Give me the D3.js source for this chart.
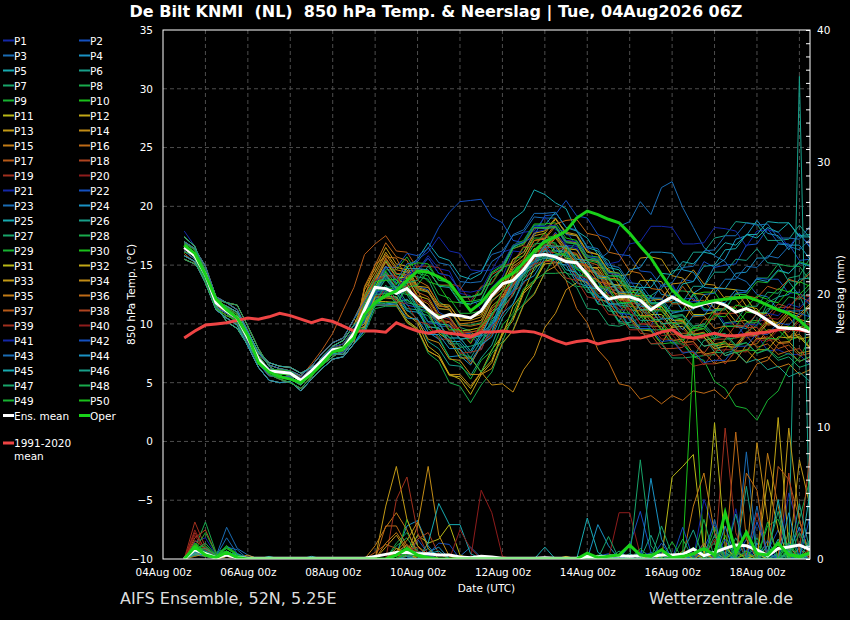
<!DOCTYPE html>
<html>
<head>
<meta charset="utf-8">
<script src="https://cdn.jsdelivr.net/npm/d3@7"></script>
<style>
  body { margin: 0; background: #000; }
  text { font-family: "DejaVu Sans", sans-serif; fill: #fff; }
</style>
</head>
<body>
<svg id="chart" width="850" height="620"></svg>
<script>
// ---- data ------------------------------------------------------------
// hours after 04Aug 00z, 6-hourly from 04Aug 12z
var firstHour = 12, stepHours = 6;

var xTickHours = [0, 48, 96, 144, 192, 240, 288, 336];
var xTickLabels = ["04Aug 00z", "06Aug 00z", "08Aug 00z", "10Aug 00z", "12Aug 00z", "14Aug 00z", "16Aug 00z", "18Aug 00z"];
var tempTicks = [-10, -5, 0, 5, 10, 15, 20, 25, 30, 35];
var rainTicks = [0, 10, 20, 30, 40];

var memberColors = ["#1428a8","#1450c0","#1a6cb4","#1a92c4","#18aab0","#18a08a","#18a46a","#18aa4c","#18b232","#1ac21a",
                    "#b8b816","#c2a816","#c29a16","#c28c16","#c27c16","#be6a16","#b65a18","#b04420","#a0301e","#8e1c1c"];

// 850 hPa temperature (°C) per member, P1..P50
var memberTemp = [
 [17.9,16.6,14.2,11.6,10.2,9.6,8.2,6.9,5.9,5.6,5.3,4.8,5.9,7.2,8.1,8.6,9.9, 11.5,13.9,14.0,13.1,14.3,14.6,15.8,14.7,14.5,12.6,12.4,11.2,13.1,14.0,16.2,16.1,17.8,18.0,18.4,16.7,16.6,14.6,14.3,12.6,13.0,13.8,12.3,12.2,12.0,13.4,11.8,11.9,11.8,11.4,10.0,10.1,8.8,9.1,7.7,7.8,7.4,7.4,6.5],
 [16.2,15.5,13.8,11.4,10.9,10.2,8.4,6.6,5.6,5.5,5.5,4.9,5.7,6.6,7.4,7.6,8.8, 10.5,11.7,13.1,11.8,13.2,13.2,12.9,11.0,10.5,9.1,9.2,7.8,9.9,11.4,13.8,14.2,16.2,16.5,17.8,16.6,16.4,14.4,13.6,11.6,11.3,9.7,9.8,9.8,11.7,12.2,13.8,13.6,15.3,14.8,15.0,15.1,16.7,16.8,18.1,16.9,16.8,15.4,15.5],
 [17.0,16.4,14.9,12.3,11.8,11.2,9.4,7.5,6.5,6.2,6.0,5.6,6.4,7.5,8.4,8.8,10.4, 12.3,13.7,14.9,13.5,14.5,14.6,15.6,14.3,14.1,12.9,14.2,14.5,15.9,16.2,17.5,17.8,19.1,19.0,19.0,17.6,17.5,15.7,15.4,16.1,18.3,18.7,20.4,19.3,21.6,22.1,19.9,18.2,16.5,15.8,15.3,14.0,13.6,12.5,12.3,11.2,11.1,11.1,11.3],
 [15.8,15.3,13.5,11.2,10.5,9.9,8.1,6.3,5.2,5.0,5.1,4.3,5.3,6.2,7.0,7.2,8.3, 9.5,11.9,11.7,11.8,12.1,11.3,9.3,8.7,7.2,7.3,6.5,8.2,9.3,12.1,13.2,15.2,15.9,17.3,16.2,16.1,14.3,13.7,11.7,11.5,10.2,12.1,12.6,13.9,12.5,12.4,11.1,12.6,13.2,14.9,15.5,17.2,17.5,18.8,17.7,17.5,16.3,17.7,16.5],
 [16.5,15.7,14.0,11.9,11.5,11.0,9.3,7.6,6.7,6.4,6.3,5.8,6.3,6.8,7.5,7.4,8.6, 11.3,12.7,14.2,12.9,14.8,15.5,16.9,15.7,15.4,14.1,13.8,14.3,16.3,17.1,18.9,19.6,21.4,21.0,20.3,19.8,17.9,17.3,15.9,15.4,13.6,12.9,11.2,10.7,9.5,10.9,11.1,12.5,11.2,11.1,9.8,9.8,9.6,10.9,11.0,12.3,12.5,13.8,13.9],
 [17.4,16.6,14.2,11.6,10.2,9.6,8.2,6.9,5.9,5.6,5.3,4.8,5.9,7.2,8.1,8.6,9.9, 10.3,12.8,12.8,12.7,11.2,10.4,8.5,7.9,6.5,6.4,5.6,7.1,8.2,10.5,11.7,13.9,14.5,15.9,15.9,15.8,14.1,13.5,12.3,11.7,10.2,10.1,10.5,12.4,13.0,14.5,14.7,16.1,16.1,17.3,17.5,18.7,18.6,18.5,17.1,17.1,17.2,18.4,17.3],
 [15.5,15.1,13.9,12.1,11.8,11.6,9.8,7.9,6.4,5.8,5.6,5.2,5.8,6.5,7.2,7.8,9.1, 11.2,12.5,13.8,12.7,14.1,14.0,13.8,11.9,11.3,9.7,9.4,8.2,10.2,11.3,13.5,13.8,15.3,15.6,15.5,13.7,13.1,11.3,11.2,9.9,9.8,10.1,11.9,12.2,12.1,10.6,10.4,9.2,8.9,7.6,7.5,7.8,9.3,9.9,11.8,12.3,13.9,14.1,15.6],
 [15.8,15.3,13.5,11.2,10.5,9.9,8.1,6.3,5.2,5.0,5.1,4.3,5.3,6.2,7.0,7.2,8.3, 9.2,11.3,11.5,11.5,10.2,9.5,7.5,6.8,5.0,4.7,3.3,4.8,5.9,8.3,9.5,11.7,12.6,14.3,14.3,14.4,13.2,13.1,11.7,11.5,10.1,9.9,9.9,11.3,11.5,12.8,12.8,12.7,11.3,11.1,11.2,12.6,12.7,13.9,13.9,15.1,14.9,14.9,13.7],
 [16.9,16.3,14.6,11.7,11.0,10.0,8.6,6.8,5.7,5.3,5.0,4.5,5.5,6.9,7.7,8.0,9.3, 12.1,13.2,14.6,14.6,15.7,14.3,14.1,12.5,12.2,10.9,10.9,11.1,13.0,13.7,15.5,15.8,17.3,17.3,17.5,16.1,15.8,14.5,14.5,13.2,13.1,11.9,11.9,10.5,10.2,8.6,8.5,7.2,6.9,5.1,4.5,3.0,2.8,1.8,3.5,4.3,6.3,7.1,8.8],
 [16.1,15.9,14.4,12.2,11.4,10.8,9.1,7.3,6.1,6.1,6.0,5.3,6.1,7.0,7.9,8.1,9.5, 10.5,12.9,12.9,13.1,13.3,14.5,13.6,13.3,11.9,11.8,11.6,13.1,13.4,14.8,15.1,16.5,16.6,17.8,16.7,16.4,14.7,14.1,12.3,12.2,10.9,12.3,12.4,12.4,11.2,11.1,11.1,12.5,12.7,12.7,11.4,11.3,10.2,10.3,9.3,9.5,8.6,8.9,8.0],
 [16.6,15.6,13.6,11.3,10.7,10.3,8.7,7.0,6.0,5.7,5.7,5.1,6.0,6.7,7.6,7.7,9.0, 11.7,13.1,14.9,13.7,13.5,11.7,11.1,9.2,8.6,7.1,7.1,5.9,7.8,9.0,11.5,12.7,14.8,15.3,16.6,15.6,15.4,13.9,13.8,12.4,12.1,12.3,13.7,13.7,13.6,12.2,12.1,10.8,10.8,11.0,12.3,12.3,12.2,10.9,10.9,9.7,9.8,8.7,8.9],
 [16.8,16.0,14.5,12.0,11.3,10.6,9.0,7.2,6.2,6.0,5.9,5.4,6.2,7.1,8.0,8.3,9.6, 9.7,11.9,11.9,11.8,10.3,9.6,7.7,7.2,5.6,5.5,4.5,5.9,6.9,9.3,10.5,12.8,13.6,15.1,15.2,15.3,13.8,13.5,12.1,11.9,10.6,10.6,9.5,9.4,8.3,9.8,10.1,11.6,11.8,13.1,13.0,12.9,11.5,11.3,10.0,10.0,8.8,8.9,7.9],
 [16.2,15.5,13.8,11.4,10.9,10.2,8.4,6.6,5.6,5.5,5.5,4.9,5.7,6.6,7.4,7.6,8.8, 13.1,14.7,16.5,15.1,14.9,13.2,13.1,11.7,11.6,10.3,10.3,10.6,12.4,13.2,15.1,15.8,17.5,17.7,18.9,17.8,17.6,16.2,15.9,14.4,14.1,14.2,15.6,15.7,15.5,14.1,13.9,12.6,12.5,11.3,11.3,10.2,10.3,9.3,9.4,8.4,8.5,7.5,7.7],
 [15.5,15.1,13.9,12.1,11.8,11.6,9.8,7.9,6.4,5.8,5.6,5.2,5.8,6.5,7.2,7.8,9.1, 9.6,11.6,11.6,11.6,10.1,9.5,7.7,7.2,5.7,5.7,4.7,5.9,4.8,4.9,4.2,6.1,7.3,9.7,10.9,12.9,13.5,14.8,14.8,14.7,13.3,13.2,12.0,12.0,12.1,13.4,13.5,14.6,13.4,13.3,12.1,12.1,11.0,11.1,9.9,10.0,8.9,9.1,8.0],
 [17.0,16.4,14.9,12.3,11.8,11.2,9.4,7.5,6.5,6.2,6.0,5.6,6.4,7.5,8.4,8.8,10.4, 12.2,13.8,15.6,14.3,14.0,12.2,11.7,10.3,10.2,9.0,9.1,9.3,11.1,11.9,13.9,14.6,16.1,16.2,17.3,16.1,15.9,14.5,14.3,12.8,12.5,11.2,11.1,9.8,9.8,8.6,8.7,7.5,7.6,6.6,6.8,6.9,8.2,8.3,9.5,9.5,10.6,9.4,9.4],
 [16.5,15.7,14.0,11.9,11.5,11.0,9.3,7.6,6.7,6.4,6.3,5.8,6.3,6.8,7.5,7.4,8.6, 12.2,15.1,15.7,15.6,13.8,12.9,10.9,10.2,8.3,7.8,6.6,8.1,9.1,11.3,12.5,14.5,15.1,16.5,14.7,13.7,11.3,10.1,7.8,6.8,4.9,4.7,3.6,3.9,3.2,3.9,3.5,4.3,4.1,4.4,3.6,4.8,5.1,6.6,6.9,8.3,8.4,9.6,9.5],
 [16.0,15.2,13.6,11.6,10.9,10.4,8.7,7.0,6.1,5.9,5.9,5.5,6.6,7.8,9.2,11.2,13.1, 15.9,16.8,17.5,16.2,16.1,14.7,14.5,13.3,13.3,12.2,12.3,12.5,14.2,14.7,16.4,16.7,18.1,18.2,18.3,17.0,16.8,15.3,15.0,13.5,13.2,11.8,11.7,10.5,11.8,11.9,13.2,12.0,12.0,10.8,10.9,9.7,9.8,8.7,8.9,7.9,8.2,7.3,7.5],
 [16.9,16.3,14.6,11.7,11.0,10.0,8.6,6.8,5.7,5.3,5.0,4.5,5.5,6.9,7.7,8.0,9.3, 11.5,12.9,14.3,13.1,13.2,11.7,11.4,10.2,10.1,8.7,8.8,9.1,10.9,11.6,13.4,14.1,15.8,16.0,16.1,15.3,13.8,13.6,12.1,11.9,10.6,10.5,9.2,9.1,7.9,7.9,8.0,9.4,9.6,10.9,10.9,10.9,9.7,9.7,8.6,8.7,7.7,7.9,6.8],
 [16.1,15.9,14.4,12.2,11.4,10.8,9.1,7.3,6.1,6.1,6.0,5.3,6.1,7.0,7.9,8.1,9.5, 10.0,12.4,12.6,12.6,13.2,14.9,14.9,14.8,13.4,13.2,11.9,13.2,13.5,14.9,15.2,16.6,16.6,17.6,16.5,16.3,14.9,14.6,13.2,12.9,11.5,11.3,10.0,9.9,8.7,8.7,7.6,7.6,6.5,7.7,7.8,9.1,9.1,10.3,10.3,11.4,11.4,12.5,12.3],
 [16.6,15.6,13.6,11.3,10.7,10.3,8.7,7.0,6.0,5.7,5.7,5.1,6.0,6.7,7.6,7.7,9.0, 11.9,13.5,15.2,13.9,13.7,12.2,11.9,10.6,10.4,9.2,9.3,9.5,11.3,12.1,14.1,14.7,16.4,16.6,17.7,16.5,16.3,14.9,14.6,13.2,13.0,11.7,11.7,10.5,10.6,9.5,9.6,8.6,8.8,7.8,8.1,8.1,9.3,9.3,10.5,10.4,11.4,11.2,12.2],
 [16.8,16.0,14.5,12.0,11.3,10.6,9.0,7.2,6.2,6.0,5.9,5.4,6.2,7.1,8.0,8.3,9.6, 10.2,12.6,12.7,12.8,13.5,15.5,16.1,17.4,16.2,16.0,14.6,14.5,14.6,16.1,16.4,17.8,17.9,19.1,18.0,17.9,16.6,16.5,15.1,15.1,15.3,16.8,17.0,18.3,18.3,18.2,16.8,16.8,16.9,18.2,18.1,17.9,16.6,17.9,18.0,17.8,16.5,17.7,16.6],
 [16.2,15.5,13.8,11.4,10.9,10.2,8.4,6.6,5.6,5.5,5.5,4.9,5.7,6.6,7.4,7.6,8.8, 11.3,12.9,14.8,14.8,16.0,15.8,16.4,18.2,19.5,20.4,20.5,20.6,19.1,18.6,17.1,16.9,17.5,19.2,19.3,20.5,19.2,19.0,17.6,17.3,15.9,15.8,14.5,14.4,13.2,13.2,12.1,12.2,11.1,11.2,11.3,12.6,12.7,13.9,13.8,13.8,12.6,12.7,11.6],
 [17.0,16.4,14.9,12.3,11.8,11.2,9.4,7.5,6.5,6.2,6.0,5.6,6.4,7.5,8.4,8.8,10.4, 11.6,12.8,14.1,12.8,12.7,11.3,11.1,9.8,9.8,8.7,8.9,9.0,10.8,11.7,13.8,14.6,16.3,16.5,16.5,15.1,14.8,13.3,13.1,11.7,11.6,10.3,11.7,11.9,13.3,13.5,14.8,14.9,16.2,16.3,17.5,17.5,18.6,18.4,18.5,17.3,17.3,17.2,18.3],
 [15.8,15.3,13.5,11.2,10.5,9.9,8.1,6.3,5.2,5.0,5.1,4.3,5.3,6.2,7.0,7.2,8.3, 9.8,12.2,12.3,12.3,11.1,11.0,9.7,9.7,8.5,8.5,7.5,8.9,9.7,11.8,12.7,14.5,15.0,16.3,15.2,15.0,13.5,13.2,11.8,13.1,13.3,14.6,14.8,16.1,16.1,16.0,14.6,14.4,13.1,13.0,13.0,14.3,14.4,15.6,15.6,16.8,16.7,16.7,15.5],
 [16.5,15.7,14.0,11.9,11.5,11.0,9.3,7.6,6.7,6.4,6.3,5.8,6.3,6.8,7.5,7.4,8.6, 11.4,13.0,14.4,13.4,14.7,14.7,14.6,13.2,13.1,11.8,11.7,12.0,13.9,14.7,16.5,17.0,18.4,18.4,19.5,18.2,17.9,16.5,16.2,14.8,14.6,13.2,13.1,11.8,11.8,12.0,13.4,13.6,14.9,15.0,16.3,16.4,17.6,17.6,18.7,18.6,18.6,17.4,17.4],
 [17.4,16.6,14.2,11.6,10.2,9.6,8.2,6.9,5.9,5.6,5.3,4.8,5.9,7.2,8.1,8.6,9.9, 10.1,12.5,12.6,12.6,11.3,11.2,9.8,9.6,8.3,8.3,7.1,8.6,9.4,11.5,12.4,14.3,14.8,16.2,16.2,16.2,14.8,14.5,13.1,12.9,11.6,11.5,10.3,10.3,10.4,11.8,11.9,13.2,13.2,14.4,14.4,15.5,15.4,16.4,15.2,15.1,13.6,12.4,10.5],
 [15.5,15.1,13.9,12.1,11.8,11.6,9.8,7.9,6.4,5.8,5.6,5.2,5.8,6.5,7.2,7.8,9.1, 11.0,12.4,13.9,12.7,12.5,11.0,10.7,9.3,9.2,8.0,8.1,8.4,10.4,11.3,13.3,14.0,15.6,15.7,15.7,14.3,14.1,12.7,12.5,11.1,11.0,9.7,9.6,8.3,8.3,7.1,7.1,7.2,8.6,8.8,10.1,10.2,11.5,11.5,12.7,12.6,13.7,13.5,14.5],
 [16.9,16.3,14.6,11.7,11.0,10.0,8.6,6.8,5.7,5.3,5.0,4.5,5.5,6.9,7.7,8.0,9.3, 12.3,13.9,15.4,14.2,14.2,12.9,12.7,11.3,11.2,9.9,9.9,10.1,12.0,12.7,14.6,15.2,16.8,16.9,16.9,15.5,15.2,13.8,13.6,12.2,12.1,10.8,10.7,9.5,9.5,8.3,8.3,7.2,7.3,7.4,8.7,8.8,10.1,10.1,11.3,11.2,12.3,12.1,13.1],
 [16.1,15.9,14.4,12.2,11.4,10.8,9.1,7.3,6.1,6.1,6.0,5.3,6.1,7.0,7.9,8.1,9.5, 9.6,11.7,11.8,11.9,12.0,11.5,9.6,8.9,7.1,6.6,5.3,6.9,7.7,9.9,10.9,13.0,13.7,15.4,15.5,15.5,14.2,14.0,12.6,12.4,11.0,10.9,9.6,9.5,8.3,8.4,8.5,9.8,9.9,11.2,11.3,12.5,12.5,13.6,13.5,14.5,14.3,15.3,15.0],
 [16.6,15.6,13.6,11.3,10.7,10.3,8.7,7.0,6.0,5.7,5.7,5.1,6.0,6.7,7.6,7.7,9.0, 11.8,13.1,14.5,13.3,14.9,15.2,15.1,13.7,13.6,12.3,12.3,12.6,14.4,15.0,16.7,17.1,18.5,18.5,18.6,17.3,17.1,15.7,15.5,14.1,14.0,12.7,12.6,11.4,11.4,10.3,10.4,9.4,9.6,8.6,9.8,9.8,11.0,10.9,12.0,11.8,12.8,12.5,13.4],
 [17.4,16.6,14.2,11.6,10.2,9.6,8.2,6.9,5.9,5.6,5.3,4.8,5.9,7.2,8.1,8.6,9.9, 12.0,13.6,15.3,14.0,13.9,12.4,12.1,10.7,10.6,9.4,9.5,9.7,11.5,12.3,14.2,14.8,16.4,16.5,17.6,16.4,16.3,14.9,14.7,13.4,13.3,12.0,12.0,10.8,10.8,9.7,9.8,8.7,8.9,7.9,8.1,8.0,9.1,9.0,10.1,9.9,10.9,10.6,11.5],
 [16.8,16.0,14.5,12.0,11.3,10.6,9.0,7.2,6.2,6.0,5.9,5.4,6.2,7.1,8.0,8.3,9.6, 10.0,12.3,12.3,12.3,10.8,10.1,8.1,7.4,5.7,5.3,4.0,5.7,6.7,9.1,10.3,12.6,13.5,15.3,15.6,16.7,15.5,15.4,14.0,13.9,12.6,12.5,11.2,11.2,10.0,10.1,9.0,9.1,8.1,8.3,7.3,7.6,6.7,7.8,7.8,8.9,8.8,9.8,9.6],
 [16.2,15.5,13.8,11.4,10.9,10.2,8.4,6.6,5.6,5.5,5.5,4.9,5.7,6.6,7.4,7.6,8.8, 12.9,14.4,16.1,14.8,14.6,13.1,12.8,11.5,11.5,10.4,10.5,10.8,12.7,13.5,15.5,16.1,17.7,17.9,19.0,17.7,17.5,16.1,15.9,14.5,14.3,12.9,12.8,11.5,11.5,10.3,10.3,9.1,9.2,8.1,8.3,8.2,9.3,9.2,10.3,10.1,11.1,10.8,11.7],
 [17.0,16.4,14.9,12.3,11.8,11.2,9.4,7.5,6.5,6.2,6.0,5.6,6.4,7.5,8.4,8.8,10.4, 9.7,12.0,12.2,12.1,10.7,10.3,8.7,8.4,7.0,6.9,5.7,5.7,6.2,8.4,9.4,11.6,12.5,14.4,14.9,16.3,15.1,14.9,13.6,13.4,12.1,12.0,10.7,10.7,9.5,9.5,8.4,8.5,7.4,7.6,6.6,7.7,7.7,8.8,8.7,9.7,9.5,10.4,10.1],
 [15.8,15.3,13.5,11.2,10.5,9.9,8.1,6.3,5.2,5.0,5.1,4.3,5.3,6.2,7.0,7.2,8.3, 12.5,14.1,15.9,14.6,14.4,13.0,12.7,11.3,11.2,10.0,10.1,10.3,12.2,13.0,14.9,15.5,17.1,17.2,18.3,17.1,16.9,15.5,15.3,13.9,13.8,12.5,12.4,11.2,11.2,10.1,10.2,9.1,9.3,8.3,8.5,7.6,7.8,6.9,7.2,6.3,6.6,5.7,6.1],
 [16.5,15.7,14.0,11.9,11.5,11.0,9.3,7.6,6.7,6.4,6.3,5.8,6.3,6.8,7.5,7.4,8.6, 13.2,15.0,16.9,15.7,15.4,13.7,13.2,11.6,11.3,9.9,9.8,10.0,11.9,12.7,14.7,15.4,17.1,17.3,18.5,18.8,18.9,17.7,17.5,16.1,15.9,14.5,14.3,13.0,12.9,11.7,11.7,10.6,10.7,9.6,9.8,8.8,9.0,8.0,8.3,7.4,7.7,6.8,7.2],
 [15.5,15.1,13.9,12.1,11.8,11.6,9.8,7.9,6.4,5.8,5.6,5.2,5.8,6.5,7.2,7.8,9.1, 12.1,13.7,15.5,14.3,14.2,12.7,12.3,10.8,10.6,9.3,9.3,9.5,11.3,12.1,14.0,14.6,16.2,16.3,17.4,16.2,16.0,14.6,14.4,13.0,12.8,11.5,11.4,10.2,10.2,9.1,9.2,9.2,10.4,10.4,11.5,11.4,12.4,12.2,13.2,12.9,13.8,13.5,14.3],
 [16.9,16.3,14.6,11.7,11.0,10.0,8.6,6.8,5.7,5.3,5.0,4.5,5.5,6.9,7.7,8.0,9.3, 11.1,13.8,14.1,14.1,12.7,12.4,10.9,10.7,9.4,9.4,8.3,9.8,10.5,12.5,13.2,15.0,15.4,16.7,16.6,16.6,15.2,15.0,13.6,13.4,12.0,11.9,10.6,10.6,9.4,9.5,8.4,8.5,7.5,8.7,8.7,9.9,9.8,10.9,10.7,11.7,11.4,12.3,11.9],
 [16.1,15.9,14.4,12.2,11.4,10.8,9.1,7.3,6.1,6.1,6.0,5.3,6.1,7.0,7.9,8.1,9.5, 10.5,11.7,13.1,11.9,11.7,10.2,10.0,8.7,8.7,7.5,7.6,7.8,9.8,10.7,12.7,13.4,15.1,15.3,15.3,13.9,13.7,12.3,12.1,10.8,10.7,9.5,9.5,8.3,8.4,7.3,7.4,6.4,6.6,6.6,7.8,7.8,9.0,8.9,10.0,9.8,10.8,10.5,11.4],
 [16.6,15.6,13.6,11.3,10.7,10.3,8.7,7.0,6.0,5.7,5.7,5.1,6.0,6.7,7.6,7.7,9.0, 11.0,13.7,14.0,14.0,12.6,12.4,11.0,10.9,9.7,9.7,8.6,10.0,10.7,12.7,13.4,15.1,15.5,16.8,15.7,15.5,14.1,13.9,12.6,12.5,11.2,11.2,10.0,10.1,9.0,9.1,8.1,8.3,7.3,7.5,6.6,7.7,7.6,8.7,8.5,9.5,9.3,10.2,9.9],
 [16.8,16.0,14.5,12.0,11.3,10.6,9.0,7.2,6.2,6.0,5.9,5.4,6.2,7.1,8.0,8.3,9.6, 11.2,12.6,14.0,12.8,14.2,14.4,15.6,14.3,14.1,12.8,12.7,12.9,14.6,15.1,16.7,17.0,18.3,18.3,18.4,17.1,17.0,15.7,15.6,14.3,14.2,12.9,12.9,11.7,11.7,10.6,10.7,9.6,9.8,8.8,9.0,8.9,10.0,9.9,10.9,10.7,11.7,11.4,12.3],
 [16.2,15.5,13.8,11.4,10.9,10.2,8.4,6.6,5.6,5.5,5.5,4.9,5.7,6.6,7.4,7.6,8.8, 10.3,12.7,12.9,12.9,11.6,11.4,10.1,10.0,8.8,8.8,7.7,9.1,9.9,12.0,12.8,14.7,15.2,16.6,15.5,15.3,13.9,13.7,12.3,12.2,10.9,10.8,9.6,9.6,8.5,8.6,7.5,7.7,6.7,6.9,6.9,8.1,8.1,9.2,9.1,10.1,9.9,10.9,10.6],
 [17.0,16.4,14.9,12.3,11.8,11.2,9.4,7.5,6.5,6.2,6.0,5.6,6.4,7.5,8.4,8.8,10.4, 11.9,13.4,14.9,13.7,15.1,15.3,16.5,15.2,15.0,13.6,13.5,13.6,15.3,15.9,17.6,18.0,19.4,19.4,19.5,18.2,18.0,16.6,16.4,15.0,14.8,13.5,13.4,12.2,12.2,11.0,11.1,11.2,12.5,12.6,13.8,13.8,14.9,14.8,15.8,15.6,16.6,16.3,17.2],
 [15.8,15.3,13.5,11.2,10.5,9.9,8.1,6.3,5.2,5.0,5.1,4.3,5.3,6.2,7.0,7.2,8.3, 9.4,11.6,11.6,11.7,10.5,10.4,9.1,9.1,7.9,7.9,6.8,8.2,8.9,10.9,11.7,13.6,14.1,15.6,15.6,16.7,15.5,15.4,14.1,14.0,12.7,12.7,11.5,11.5,10.4,10.5,9.5,10.7,10.7,11.9,11.8,12.9,12.8,13.8,13.6,14.6,14.3,15.2,14.9],
 [16.5,15.7,14.0,11.9,11.5,11.0,9.3,7.6,6.7,6.4,6.3,5.8,6.3,6.8,7.5,7.4,8.6, 11.5,12.8,14.2,13.0,12.9,11.5,11.3,10.0,9.9,8.7,8.8,9.0,10.9,11.7,13.6,14.2,15.8,15.9,15.9,14.6,14.4,13.1,13.0,11.7,11.7,11.8,13.1,13.1,14.3,14.2,15.3,15.1,16.1,15.9,16.9,16.7,17.6,17.3,18.2,17.8,18.6,17.5,17.6],
 [17.4,16.6,14.2,11.6,10.2,9.6,8.2,6.9,5.9,5.6,5.3,4.8,5.9,7.2,8.1,8.6,9.9, 10.5,13.0,13.1,13.2,11.8,11.6,10.2,10.1,8.8,8.8,7.7,9.2,10.0,12.1,12.9,14.8,15.3,16.7,16.6,16.6,15.3,15.2,13.9,13.8,12.5,12.4,11.2,11.2,10.0,10.1,9.0,9.1,8.1,8.3,7.3,7.6,6.7,7.0,6.1,6.4,5.5,5.9,5.1],
 [15.5,15.1,13.9,12.1,11.8,11.6,9.8,7.9,6.4,5.8,5.6,5.2,5.8,6.5,7.2,7.8,9.1, 10.7,11.9,13.3,12.1,13.5,13.7,14.9,13.7,13.6,12.3,12.3,12.5,14.3,14.9,16.6,16.9,18.2,18.1,18.2,16.9,16.8,15.5,15.4,14.1,14.1,12.9,12.9,11.7,11.8,10.7,10.8,9.8,10.0,9.0,9.2,8.2,8.4,7.5,7.8,6.9,7.2,6.3,6.6],
 [16.9,16.3,14.6,11.7,11.0,10.0,8.6,6.8,5.7,5.3,5.0,4.5,5.5,6.9,7.7,8.0,9.3, 11.3,12.7,14.1,12.9,12.8,11.3,10.9,9.3,8.9,7.4,7.2,5.9,7.5,8.5,10.7,11.7,13.7,14.3,15.8,16.0,17.0,15.8,15.7,14.4,14.3,13.0,12.9,11.7,11.7,10.6,10.7,9.6,9.8,8.8,9.0,8.1,8.4,7.5,7.9,7.1,7.5,6.8,7.2],
 [16.1,15.9,14.4,12.2,11.4,10.8,9.1,7.3,6.1,6.1,6.0,5.3,6.1,7.0,7.9,8.1,9.5, 10.4,11.5,12.8,11.7,13.1,13.3,14.5,13.3,13.2,11.9,11.9,12.1,13.9,14.6,16.4,16.8,18.2,18.2,18.3,17.0,16.8,15.4,15.2,13.8,13.7,12.4,12.3,11.1,11.1,10.0,10.1,9.0,9.2,8.2,8.4,7.5,7.8,7.7,8.8,8.7,9.8,9.6,10.6],
 [16.6,15.6,13.6,11.3,10.7,10.3,8.7,7.0,6.0,5.7,5.7,5.1,6.0,6.7,7.6,7.7,9.0, 11.0,13.6,13.7,13.8,12.5,12.3,10.9,10.8,9.5,9.5,8.4,9.9,10.7,12.8,13.6,15.4,15.8,17.1,16.0,15.9,14.6,14.5,13.2,13.1,11.8,11.8,10.6,10.6,9.5,9.6,8.6,9.7,9.6,10.7,10.6,11.6,11.4,12.4,12.1,13.0,12.7,13.6,13.2]
];

// precipitation (mm per 6 h) per member, P1..P50
var memberRain = [
 [0,1.3,1.6,0.3,0.4,0.2,0,0.1,0,0, 0,0,0,0,0,0,0,0,0,0, 0,0,0.6,0.4,0,0,0,0,0,0, 0,0,0,0,0,0,0,0,0.3,0, 0,0.2,0,0.6,0.3,0,0,0.5,0.2,1.0, 0.4,0,0.6,0,0.8,0.3,0,5.0,2.0,0.6],
 [0,0.6,0.4,0,0.3,0.2,0,0,0,0, 0,0,0,0,0,0,0,0,0,0, 0,0,1.5,0.4,1.2,1.1,0,0.2,0,0, 0,0,0,0,0,0,0,0,0,0.2, 0.4,0,1.2,0,0,0.5,0,0,0,0.8, 2.6,0.3,0,1.5,0,0.6,2.2,0,0.4,0],
 [0,0.4,0.3,0.2,2.4,0.8,0.3,0,0.1,0, 0,0,0,0,0,0,0,0,0,0, 0,0.3,0.6,0,0,0,0.2,0.9,0.1,0, 0,0,0,0,0,0,0,0,0,0, 0,0,0,0,0.5,0,0.3,0,0.2,1.2, 0,0.5,0,8.1,0.5,0,0.3,1.1,0,0],
 [0,0.5,0.8,0.2,0.3,0.1,0,0,0,0, 0,0,0,0,0,0,0,0,0,0, 0.4,2.5,2.9,1.0,0,0,0,0,0,0, 0,0,0,0,0,0,0,0,0,2.6, 1.0,0,0,0,0,0,0.2,0,0.4,0, 0,0.3,0,0,1.2,0,0,0.5,2.4,0.6],
 [0,0.3,0.2,0,0.6,0.2,0,0,0,0, 0,0,0.2,0,0,0,0,0,0,0, 0.3,0.5,0.2,0,0.4,0,0,0,0,0, 0,0,0,0,0.9,0,0,0,3.1,0.5, 0,0,0,0.4,0,0,0,0,0.3,0, 0.2,0,0,0,0.6,0,1.5,0,0,0.3],
 [0,0.4,0.6,0.3,0.3,0.2,0,0,0.2,0, 0,0,0,0,0,0,0,0,0,0, 0,0,0.3,0.8,0,0,0,0,0,0, 0,0,0,0,0,0,0,0,0,0, 0,0,0,0,0,0,0,0.4,0,0, 0,0.5,0,5.5,0.4,0,0,0.3,0,0],
 [0,0.5,0.9,0.2,0.4,0.4,0.1,0,0,0, 0,0,0,0,0,0,0,0,0,0, 0.5,1.0,0.4,0.2,0,0,0,0,0,0, 0,0,0,0,0,0,0,0,0,0, 0,0.3,0,0,0,0.2,0,0,0,0.6, 0,0,1.6,0,0,0.4,0,0,0.9,0.2],
 [0,0.8,2.8,0.5,0.8,0.3,0.1,0,0,0, 0,0,0,0,0,0,0,0,0,0, 1.2,2.0,0.6,0.3,0,0,0,0,0,0, 0,0,0,0,0,0,0,0,0,0, 0,0,0,0,0,0,0,0,0,0.5, 1.2,0,0,0,0.3,0,0,2.0,0,0.5],
 [0,0.6,0.5,0.2,1.0,0.4,0,0,0,0, 0,0,0,0,0,0,0,0,0,0, 0,3.0,1.0,0.2,0,0,0,0,0,0, 0,0,0,0,0,0,0,0,0,0, 0,0,0,0,0.4,0,0,0,0,0, 0,0,0.8,0,0,2.5,3.0,0.5,0,0],
 [0,1.2,0.6,0.2,1.0,0.3,0,0,0,0, 0,0,0,0,0,0,0,0,0,0, 0.3,0.6,0.2,0,0,0,0,0,0,0, 0,0,0,0,0,0,0,0,0,0.3, 0,0,0,0,0,0,0.2,0.5,15.5,0.3, 0,0,0,0.6,0,0,0,0,0.2,0],
 [0,0.4,0.3,0,0.2,0.1,0,0,0,0, 0,0,0,0,0,0,0,0,0,0, 0,0.3,1.8,1.2,1.5,2.6,0.3,0,0,0, 0,0,0,0,0,0,0,0,0,0, 0,0,0,0,0,0,6.2,7.0,7.9,0.5, 0,0,0,0,0.4,0,0,0,0,0],
 [0,0.3,0.5,0.1,0.3,0.2,0,0,0,0, 0,0,0,0,0,0,0,0,0,0, 0.4,0.6,0.2,0,0,0,0,0,0,0, 0,0,0,0,0,0,0.2,0,0,0, 0,0,0,0,0.3,0,0,0,0,0, 0.5,0,0,0,0,1.0,10.7,1.0,0,0.4],
 [0,0.5,0.3,0.1,0.2,0.3,0,0,0,0, 0,0,0,0,0,0,0,0,0,4.0, 7.0,3.0,1.0,0.3,0,0,0,0,0,0, 0,0,0,0,0,0,0,0,0,0, 0,0,0,0,0,0,0,0.6,0,0, 0,0,0,0.4,0,0,0,0,7.5,4.0],
 [0,0.2,0.4,0.2,0.2,0.1,0.3,0,0,0, 0,0,0,0,0,0,0,0,0,0, 0,0.4,2.5,7.0,1.8,0.2,0,0,0,0, 0,0,0,0,0,0,0,0,0,0, 0,0,0,0,0,0,0,0,0.5,0, 0,0,0,0,8.8,3.0,0,0,0,0],
 [0,0.6,0.4,0.2,0.2,0.2,0,0,0,0, 0,0,0,0,0,0,0,0,1.0,2.4, 3.5,2.2,0.4,0,0,0,0,0,0,0, 0,0,0,0,0,0,0,0,0,0, 0,0,0,0,0,0,0,0,0,0.4, 0,0,0,0,0,8.0,4.0,0.5,0,0],
 [0,0.7,0.3,0.1,0.3,0.2,0,0,0,0, 0,0,0,0,0,0,0,0,0,2.5, 2.5,1.0,0.3,0,0,0,0,0,0,0, 0,0,0,0,0,0,0,0,0,0, 0,0,0,0,0,0,0,0,0,0, 0,0,9.6,1.5,0,0,0,0.5,0,0],
 [0,1.0,0.6,0.3,0.3,0.2,0,0,0,0, 0,0,0,0,0,0,0,0,0.5,1.1, 0.8,0.3,0,0,0,0,0,0,0,0, 0,0,0,0,0,0,0,0,0,0, 0,0,0,0,0,0,0,0,0,1.2, 0,0,0,0,0,0.6,0,0,0.8,0],
 [0,1.6,2.2,0.4,0.3,0.2,0.1,0,0,0, 0,0,0,0,0,0,0,0,0,0, 0,0.2,1.5,2.0,0.4,0,0,0,0,0, 0,0,0,0,0,0,0,0,0,0, 0,0,0,0,0,0,0,0,0,0, 0,0,0,0.6,0,0,0,0,0,0.9],
 [0,2.8,0.9,0.2,0.4,0.1,0,0,0,0, 0,0,0,0,0,0,0,0,0,0, 4.5,6.2,2.0,0.3,0,0,0,0,0,0, 0,0,0,0,0,0,0,0,0,0, 0,0,0,0,0,0,0,0,0,0, 0,9.9,2.0,0,0,0,0,0,0,0],
 [0,2.2,0.6,0.2,0.2,0.1,0,0,0,0, 0,0,0,0,0,0,0,0,0,0, 0,0,0,0,0,0,0,0,5.2,3.5, 0.2,0,0,0,0,0,0,0,0,0, 0,3.5,3.5,0.3,0,0,0,0,0,0, 0,0,0,0,0,0,0,0,0,0],
 [0,0.8,0.5,0.2,0.5,0.3,0,0,0,0, 0,0,0,0,0,0,0,0,0,0, 0,0.3,0.2,0,0,0,0,0,0,0, 0,0,0,0,0,0,0,0,0,0, 0,0,0,0,0,0,0,0,0,4.5, 2.0,0,0,0.7,0,0,0,0,0,0],
 [0,0.5,0.3,0.1,0.6,0.2,0,0,0,0, 0,0,0,0,0,0,0,0,0,0, 0,0,0,0,0,0,0,0,0,0, 0,0,0,0,0,0,0,0,0,0, 0,0,1.0,3.6,0.5,0,0,0,0,0, 0,0,0,0,0,0.5,0,0,0,0],
 [0,0.6,0.4,0.2,0.9,0.7,0,0.1,0,0, 0,0,0,0,0,0,0,0,0,0, 0,0.7,0.3,0,0,0,0,0,0,0, 0,0,0,0,0,0,0,0,0,0, 0,0,0,0,0,0,0,0,0,0, 0,0.8,0,0,0,1.4,0,0,0.3,0],
 [0,0.4,0.3,0.2,0.5,0.2,0,0,0,0, 0,0,0,0,0,0,0,0,0,0, 0,0,0,0.5,0.9,0,0,0,0,0, 0,0,0,0,0,0,0,0,0,0, 0,0,0,0,6.1,1.5,0,0,0,0, 0,0,0,0,0,0,0,0,0,0.4],
 [0,0.5,0.3,0.1,0.4,0.3,0,0,0,0, 0,0,0,0,0,0,0,0,0,0, 0,0,0,1.2,4.2,2.6,2.6,0.4,0,0, 0,0,0,0,0,0,0,0,0,0, 0,0,0,0,0,0,0,0,0,0, 0,0,0,0,0,0,0,0.6,0,0],
 [0,0.3,0.4,0.1,0.3,0.2,0,0,0,0, 0,0,0,0,0,0,0,0,0,0, 0,0,0.4,0,0,0,0,0,0,0, 0,0,0,0,0,0,0,0,0,0, 0,0,0,0,0,0,0,0,0,0, 0,0,0,0,0,0,0,0.5,36.5,1.0],
 [0,0.4,0.7,0.2,0.3,0.2,0,0,0,0, 0,0,0,0,0,0,0,0,0,0, 0,0.3,0.2,0,0,0,0,0,0,0, 0,0,0,0,0,0,0,0,0,0, 1.7,0,0,7.5,1.0,0,0,0,0,0, 0,0,0,0,0,0,0.4,0,0,0],
 [0,0.6,0.5,0.2,0.4,0.2,0,0,0,0, 0,0,0,0,0,0,0,0,0,0, 1.0,1.6,0.4,0,0,0,0,0,0,0, 0,0,0,0,0,0,0,0,0,0, 0,0,0,0,0,0,0,0,0,0, 0,0,0,0,0,0,0,0,3.0,6.0],
 [0,0.7,2.0,0.4,0.6,0.2,0,0,0,0, 0,0,0,0,0,0,0,0,0,0, 0,0.5,0.2,0,0,0,0,0,0,0, 0,0,0,0,0,0,0,0,0,0, 0,0,0,0,0,0,0,0,0,0, 0,0,0,0,0,0,0.9,0,0,0],
 [0,1.0,0.6,0.2,0.8,0.3,0,0,0,0, 0,0,0,0,0,0,0,0,0,0, 0.2,0.8,0.3,0,0,0,0,0,0,0, 0,0,0,0,0,0,0,0,0,0, 0,0,0,0,0,0,0,0,0,0, 0,1.0,0,0,0,0,0,0,0,0],
 [0,0.4,0.3,0,0.2,0.1,0,0,0,0, 0,0,0,0,0,0,0,0,0,0, 0.8,0.5,0,0,0,0,0,0,0,0, 0,0,0,0,0,0,0,0,0,0, 0,0,0,0,0,0,0,0,0,0, 10.3,1.0,0,0,0,0,0,0,0,0],
 [0,0.5,0.3,0.1,0.2,0.2,0,0,0,0, 0,0,0,0,0,0,0,0,0,0, 0.3,0.2,0,0,0,0,0,0,0,0, 0,0,0,0,0,0,0,0,0,0, 0,0,0,0,0,0,0,0,0,0, 0,0,0,0,0,6.0,2.2,0,0,0],
 [0,0.6,0.4,0.2,0.2,0.2,0,0,0,0, 0,0,0,0,0,0,0,0,0,0.9, 1.8,0.6,0,0,0,0,0,0,0,0, 0,0,0,0,0,0,0,0,0,0, 0,0,0,0,0,0,0,0,0,0, 0,0,0,0,0,0,0,9.9,3.0,0],
 [0,0.5,0.2,0.1,0.2,0.1,0,0,0,0, 0,0,0,0,0,0,0,0,0,0, 0.6,1.4,2.8,0.8,0,0,0,0,0,0, 0,0,0,0,0,0,0,0,0,0, 0,0,0,0,0,0,0,0,0,0, 0,0,0.6,0,0,0,0,0,0,0],
 [0,0.7,0.3,0.2,0.2,0.2,0,0,0,0, 0,0,0,0,0,0,0,0,0,1.2, 2.0,0.8,0,0,0,0,0,0,0,0, 0,0,0,0,0,0,0,0,0,0, 0,0,0,0,0,0,0,0,4.0,6.5, 2.0,0,0,0,0,0,0,0,0,0],
 [0,0.8,0.4,0.2,0.3,0.1,0,0,0,0, 0,0,0,0,0,0,0,0,0,0, 0.5,1.1,0.3,0,0,0,0,0,0,0, 0,0,0,0,0,0,0,0,0,0, 0,0,0,0,0,0,0,0,0,0, 0,0,0,6.5,5.2,0,0,0,0,0],
 [0,1.1,0.5,0.2,0.3,0.2,0,0,0,0, 0,0,0,0,0,0,0,0,0,0, 0,0.4,0.2,0,0,0,0,0,0,0, 0,0,0,0,0,0,0,0,0,0, 0,0,0,0,0,0,0,0,0,0, 0,0,0,0,0,0,7.0,6.0,3.0,0],
 [0,1.4,0.8,0.3,0.2,0.2,0,0,0,0, 0,0,0,0,0,0,0,0,0,0, 0,0.6,0.9,0.3,0,0,0,0,0,0, 0,0,0,0,0,0,0,0,0,0, 0,0,0,0,0,0,0,0,0,0, 0,0,0,0,0,0,0,6.5,0.5,8.0],
 [0,2.0,0.7,0.2,0.2,0.1,0,0,0,0, 0,0,0,0,0,0,0,0,0,0, 0,0.8,0.6,0,0,0,0,0,0,0, 0,0,0,0,0,0,0,0,0,0, 0,0,0,0,0,0,0,0,0,0, 1.5,0,0,0,3.5,0,0,0,0,0],
 [0,1.8,0.5,0.2,0.2,0.1,0,0,0,0, 0,0,0,0,0,0,0,0,0,0, 0,0,0,0,0,0,2.2,0.8,0,0, 0,0,0,0,0,0,0,0,0,0, 0,0,0,0,0,0,0,0,0,0, 0,0,0,0,0,0,0,0,0,0],
 [0,0.9,0.6,0.2,0.6,0.2,0,0,0,0, 0,0,0,0,0,0,0,0,0,0, 0,0.4,0.3,0,0,0,0,0,0,0, 0,0,0,0,0,0,0,0,0,0, 0,0,0,0,0,0,0,0,0,0, 0,0,3.8,0,0,0,0,0,0,0],
 [0,0.7,0.5,0.2,0.5,0.3,0,0,0,0, 0,0,0,0,0,0,0,0,0,0, 0,0,0.5,0,0,0,0,0,0,0, 0,0,0,0,0,0,0,0,0,0, 0,0,0,0.5,0,1.2,0,2.4,0,0.8, 0,1.5,0,0,2.8,0.6,0,1.2,0,3.2],
 [0,0.5,0.4,0.2,1.6,0.4,0,0,0,0, 0,0,0,0,0,0,0,0,0,0, 0,0,0,0.3,0,0,0,0,0,0, 0,0,0,0,0,0,0,0,0,0, 0,0,0,0,0,0,0,0,0,0, 3.0,0,0,0,4.0,0,0,0,0,0],
 [0,0.4,0.3,0.1,0.5,0.3,0,0,0,0, 0,0,0,0,0,0,0,0,0,0, 0,0,0,0,0,0,0,0,0,0, 0,0,0,0,0,0,0,0,0,0, 0,0,0,0,0,0,0,0,0,0, 0,2.5,0,0,0,0,0,3.5,0,0],
 [0,0.6,0.4,0.2,0.4,0.3,0,0,0,0, 0,0,0,0,0,0,0,0,0,0, 0,0,0,0.4,0.6,0,0,0,0,0, 0,0,0,0,0,0,0,0,0,0, 0,0,0,0,0,0,0,0,0,0, 0,0,0,0,0,0,4.5,0,0,5.0],
 [0,0.5,0.6,0.2,0.3,0.2,0,0,0,0, 0,0,0,0,0,0,0,0,0,0, 0,0.2,0,0,0,0,0,0,0,0, 0,0,0,0,0,0,0,0,0,0, 0,0,0.4,0,1.8,0,0,0.5,2.2,0, 0.6,0,3.4,0,0,1.0,0,0,4.2,0.6],
 [0,0.6,0.8,0.3,0.4,0.2,0,0,0,0, 0,0,0,0,0,0,0,0,0,0, 0,0.6,0.3,0,0,0,0,0,0,0, 0,0,0,0,0,0,0,0,0,0, 0,0.6,0,0,0,2.5,0.3,0,0,0, 1.8,0,0,2.2,0,0.5,3.6,0,0,1.5],
 [0,0.7,1.2,0.3,0.5,0.2,0,0,0,0, 0,0,0,0,0,0,0,0,0,0, 0.4,0.8,0.2,0,0,0,0,0,0,0, 0,0,0,0,0,0,0,0,0,0, 0,0,0,0,0,0,0,1.5,0,3.0, 0,0.8,0,0,1.6,0,0,0,2.0,0.4],
 [0,0.8,1.0,0.3,0.6,0.2,0,0,0,0, 0,0,0,0,0,0,0,0,0,0, 0,0.5,0.2,0,0,0,0,0,0,0, 0,0,0,0,0,0,0,0,0,0, 0,0,0,0.8,0,0,1.3,0,0,0, 2.4,0,0.5,0,0,2.8,0,0.7,0,0],
 [0,1.1,0.5,0.2,0.9,0.3,0,0,0,0, 0,0,0,0,0,0,0,0,0,0, 0,0.4,0.2,0,0,0,0,0,0,0, 0,0,0,0,0,0,0,0,0,0, 0,0,0,0,0.4,0,0,0,0.9,0, 0,1.8,0,0.6,0,0,0,1.3,0,0.5]
];

var meanTemp = [16.5,15.8,14.2,11.8,11.1,10.5,8.8,7.0,6.0,5.9, 5.8,5.2,6.0,6.9,7.8,7.9,9.2,11.2,13.1,13.0, 12.6,13.0,12.1,11.2,10.5,10.8,10.7,10.5,11.1,12.4,
                13.4,13.7,14.6,15.8,15.9,15.7,15.3,15.2,14.2,13.0, 12.1,12.3,12.3,12.0,11.2,11.8,12.3,11.8,11.4,11.7, 11.9,11.6,11.0,11.3,10.9,10.3,9.7,9.6,9.6,9.3];
var operTemp = [16.7,16.0,14.2,12.1,11.2,10.5,9.0,6.7,5.9,5.5, 5.3,5.0,5.7,6.6,7.6,7.9,8.8,10.8,11.8,12.4, 12.8,13.7,14.5,14.4,14.0,13.5,12.3,11.1,11.8,12.9,
                13.8,14.3,15.2,16.2,17.0,17.4,17.9,19.0,19.6,19.3, 18.9,18.6,17.7,16.6,15.6,14.2,12.9,12.0,11.6,11.8, 12.0,12.1,12.2,12.3,12.0,11.6,11.2,10.9,10.3,9.5];
var climTemp = [8.8,9.4,9.9,10.0,10.1,10.3,10.5,10.4,10.6,10.9, 10.7,10.4,10.1,10.4,10.2,9.8,9.4,9.4,9.4,9.3, 10.1,9.7,9.4,9.2,9.4,9.2,9.1,8.9,9.3,9.3,
                9.4,9.3,9.4,9.3,9.0,8.6,8.3,8.5,8.6,8.3, 8.5,8.6,8.8,8.8,9.0,9.3,9.5,8.9,8.8,9.0, 9.2,9.0,9.0,9.1,9.2,9.3,9.5,9.6,9.5,9.3];
var meanRain = [0,0.7,0.4,0.1,0.3,0.1,0.05,0.05,0.05,0.05, 0.05,0.05,0.05,0.05,0.05,0.05,0.05,0.05,0.2,0.35, 0.5,0.5,0.4,0.4,0.3,0.3,0.15,0.1,0.2,0.15,
                0.05,0.05,0.05,0.05,0.1,0.05,0.05,0.05,0.2,0.15, 0.2,0.25,0.2,0.25,0.2,0.3,0.3,0.35,0.75,0.25, 0.5,0.8,1.05,1.0,0.7,0.25,0.8,0.9,1.05,0.7];
var operRain = [0,0.9,0.3,0.1,0.5,0.1,0,0,0,0, 0,0,0,0,0,0,0,0,0,0, 0.3,0.8,0.3,0.1,0,0,0,0,0,0,
                0,0,0,0,0,0,0,0,0.45,0.1, 0.2,0.3,1.05,0.3,0.2,0.7,0.1,0.2,0.4,0.8, 0.3,3.5,0.5,2.0,0.4,0.3,1.2,0.3,0.2,0.45];

// ---- chart -----------------------------------------------------------
var svg = d3.select("#chart");
svg.append("rect").attr("width", 850).attr("height", 620).attr("fill", "#000");

var plot = { left: 163, right: 810, top: 30, bottom: 559 };

var x = d3.scaleLinear().domain([0, 366]).range([plot.left, plot.right]);
var y = d3.scaleLinear().domain([-10, 35]).range([plot.bottom, plot.top]);
var y2 = d3.scaleLinear().domain([0, 40]).range([plot.bottom, plot.top]);

var hourOf = function(i) { return firstHour + i * stepHours; };

// grid
var grid = svg.append("g").attr("stroke", "#4d4d4d").attr("stroke-dasharray", "4,3").attr("stroke-width", 1);
grid.selectAll("line.v").data(d3.range(24, 366, 24)).enter().append("line")
  .attr("x1", d => x(d)).attr("x2", d => x(d)).attr("y1", plot.top).attr("y2", plot.bottom);
grid.selectAll("line.h").data(tempTicks.filter(d => d > -10 && d < 35)).enter().append("line")
  .attr("x1", plot.left).attr("x2", plot.right).attr("y1", d => y(d)).attr("y2", d => y(d));

svg.append("clipPath").attr("id", "clip").append("rect")
  .attr("x", plot.left).attr("y", plot.top).attr("width", plot.right - plot.left).attr("height", plot.bottom - plot.top);

var lines = svg.append("g").attr("clip-path", "url(#clip)").attr("fill", "none");

var tempLine = d3.line().x((d, i) => x(hourOf(i))).y(d => y(d));
var rainLine = d3.line().x((d, i) => x(hourOf(i))).y(d => y2(d));

// ensemble members
memberTemp.forEach(function(row, k) {
  lines.append("path").attr("d", tempLine(row))
    .attr("stroke", memberColors[k % 20]).attr("stroke-width", 1);
});
memberRain.forEach(function(row, k) {
  lines.append("path").attr("d", rainLine(row))
    .attr("stroke", memberColors[k % 20]).attr("stroke-width", 1);
});

// climate, mean, oper
lines.append("path").attr("d", tempLine(climTemp)).attr("stroke", "#ee4444").attr("stroke-width", 3);
lines.append("path").attr("d", tempLine(meanTemp)).attr("stroke", "#ffffff").attr("stroke-width", 3);
lines.append("path").attr("d", rainLine(meanRain)).attr("stroke", "#ffffff").attr("stroke-width", 3);
lines.append("path").attr("d", tempLine(operTemp)).attr("stroke", "#19d219").attr("stroke-width", 3);
lines.append("path").attr("d", rainLine(operRain)).attr("stroke", "#19d219").attr("stroke-width", 3);

// frame
svg.append("rect").attr("x", plot.left).attr("y", plot.top)
  .attr("width", plot.right - plot.left).attr("height", plot.bottom - plot.top)
  .attr("fill", "none").attr("stroke", "#fff").attr("stroke-width", 1);

// axes
var leftAxis = d3.axisLeft(y).tickValues(tempTicks).tickSize(0).tickPadding(10);
var gl = svg.append("g").attr("transform", `translate(${plot.left},0)`).call(leftAxis);
gl.select(".domain").remove();

var rightAxis = d3.axisRight(y2).tickValues(d3.range(0, 41, 1)).tickSize(-4).tickPadding(7)
  .tickFormat(d => rainTicks.indexOf(d) >= 0 ? d : "");
var gr = svg.append("g").attr("transform", `translate(${plot.right},0)`).call(rightAxis);
gr.select(".domain").remove();
gr.selectAll("line").attr("stroke", "#fff");

var bottomAxis = d3.axisBottom(x).tickValues(xTickHours).tickSize(0).tickPadding(10)
  .tickFormat((d, i) => xTickLabels[i]);
var gb = svg.append("g").attr("transform", `translate(0,${plot.bottom})`).call(bottomAxis);
gb.select(".domain").remove();

svg.selectAll(".tick text").attr("fill", "#fff").style("font-size", "10.5px")
  .style("font-family", "'DejaVu Sans', sans-serif");

// titles
svg.append("text").attr("x", 436).attr("y", 17).attr("text-anchor", "middle")
  .style("font-size", "16px").style("font-weight", "bold").style("white-space", "pre")
  .text("De Bilt KNMI  (NL)  850 hPa Temp. & Neerslag | Tue, 04Aug2026 06Z");

svg.append("text").attr("transform", "translate(135,294.5) rotate(-90)").attr("text-anchor", "middle")
  .style("font-size", "10.5px").text("850 hPa Temp. (°C)");
svg.append("text").attr("transform", "translate(844,294.5) rotate(-90)").attr("text-anchor", "middle")
  .style("font-size", "10.5px").text("Neerslag (mm)");
svg.append("text").attr("x", 486.5).attr("y", 592).attr("text-anchor", "middle")
  .style("font-size", "10.5px").text("Date (UTC)");

svg.append("text").attr("x", 120).attr("y", 604).style("font-size", "16px").style("fill", "#dddddd")
  .text("AIFS Ensemble, 52N, 5.25E");
svg.append("text").attr("x", 793).attr("y", 604).attr("text-anchor", "end").style("font-size", "16px").style("fill", "#dddddd")
  .text("Wetterzentrale.de");

// legend
var legend = svg.append("g");
memberTemp.forEach(function(row, k) {
  var col = k % 2, r = Math.floor(k / 2);
  var lx = col === 0 ? 3 : 79;
  var ly = 40.5 + r * 15;
  legend.append("line").attr("x1", lx).attr("x2", lx + 11).attr("y1", ly).attr("y2", ly)
    .attr("stroke", memberColors[k % 20]).attr("stroke-width", 2);
  legend.append("text").attr("x", lx + 11).attr("y", ly + 4).style("font-size", "10.5px").text("P" + (k + 1));
});
var extra = [
  { label: "Ens. mean", color: "#ffffff", col: 0, ly: 415.5 },
  { label: "Oper", color: "#19d219", col: 1, ly: 415.5 },
  { label: "1991-2020", color: "#ee4444", col: 0, ly: 443 }
];
extra.forEach(function(e) {
  var lx = e.col === 0 ? 3 : 79;
  legend.append("line").attr("x1", lx).attr("x2", lx + 11).attr("y1", e.ly).attr("y2", e.ly)
    .attr("stroke", e.color).attr("stroke-width", 3);
  legend.append("text").attr("x", lx + 11).attr("y", e.ly + 4).style("font-size", "10.5px").text(e.label);
});
legend.append("text").attr("x", 14).attr("y", 460).style("font-size", "10.5px").text("mean");
</script>
</body>
</html>
